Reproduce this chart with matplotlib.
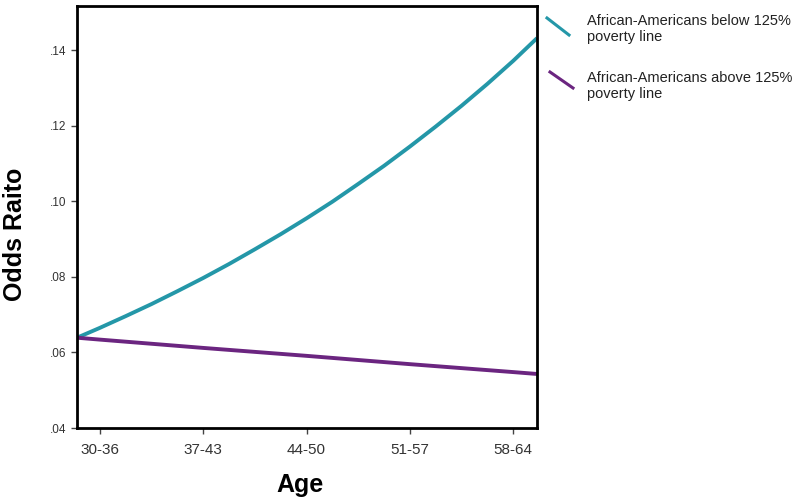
import matplotlib
matplotlib.use("Agg")
import matplotlib.pyplot as plt
from matplotlib.lines import Line2D

# =========================
# 1. DATA
# =========================
age_groups = ["30-36", "37-43", "44-50", "51-57", "58-64"]

# positions along the age axis (0 = first group) where the curves were read
pos_below = [-0.22, 0.0, 0.25, 0.5, 0.75, 1.0, 1.25, 1.5, 1.75, 2.0, 2.25,
             2.5, 2.75, 3.0, 3.25, 3.5, 3.75, 4.0, 4.23]
odds_below = [0.0639, 0.0665, 0.0696, 0.0728, 0.0762, 0.0797, 0.0834, 0.0873,
              0.0913, 0.0955, 0.0999, 0.1046, 0.1094, 0.1145, 0.1198, 0.1253,
              0.1311, 0.1372, 0.1432]

pos_above = [-0.22, 0.0, 1.0, 2.0, 3.0, 4.0, 4.23]
odds_above = [0.0639, 0.0634, 0.0612, 0.0591, 0.0569, 0.0548, 0.0543]

y_ticks = [0.04, 0.06, 0.08, 0.10, 0.12, 0.14]
y_tick_labels = [".04", ".06", ".08", ".10", ".12", ".14"]

label_below = "African-Americans below 125%\npoverty line"
label_above = "African-Americans above 125%\npoverty line"

teal = "#2497a8"
purple = "#6b2580"

plt.rcParams["font.family"] = ["Liberation Sans", "DejaVu Sans"]

# =========================
# 2. PLOT
# =========================
fig = plt.figure(figsize=(8, 5.01), dpi=100)
ax = fig.add_axes([0.0963, 0.1457, 0.575, 0.8423])

ax.plot(pos_below, odds_below, color=teal, lw=2.8, solid_capstyle="butt")
ax.plot(pos_above, odds_above, color=purple, lw=2.8, solid_capstyle="butt")

ax.set_xlim(-0.22, 4.23)
ax.set_ylim(0.04, 0.1517)

ax.set_xticks(range(len(age_groups)))
ax.set_xticklabels(age_groups, fontsize=11, color="#333333")
ax.set_yticks(y_ticks)
ax.set_yticklabels(y_tick_labels, fontsize=8.5, color="#333333")
ax.tick_params(direction="out", length=4, width=1, color="#444444")
ax.tick_params(axis="x", pad=7)

for s in ax.spines.values():
    s.set_linewidth(2)
    s.set_color("black")

ax.set_xlabel("Age", fontsize=18, fontweight="bold")
ax.set_ylabel("Odds Raito", fontsize=18, fontweight="bold")
ax.xaxis.set_label_coords(0.485, -0.107)
ax.yaxis.set_label_coords(-0.108, 0.46)

# legend, SPSS style with slanted line keys
fig.add_artist(Line2D([547 / 800, 569 / 800], [1 - 18 / 501, 1 - 35 / 501],
                      color=teal, lw=2.2, transform=fig.transFigure))
fig.add_artist(Line2D([550 / 800, 573 / 800], [1 - 72 / 501, 1 - 88 / 501],
                      color=purple, lw=2.2, transform=fig.transFigure))
fig.text(587 / 800, 1 - 29 / 501, label_below, fontsize=10.5, va="center",
         ha="left", color="#222222", linespacing=1.25)
fig.text(587 / 800, 1 - 86 / 501, label_above, fontsize=10.5, va="center",
         ha="left", color="#222222", linespacing=1.25)

fig.savefig("out.png", dpi=100)
plt.close()
